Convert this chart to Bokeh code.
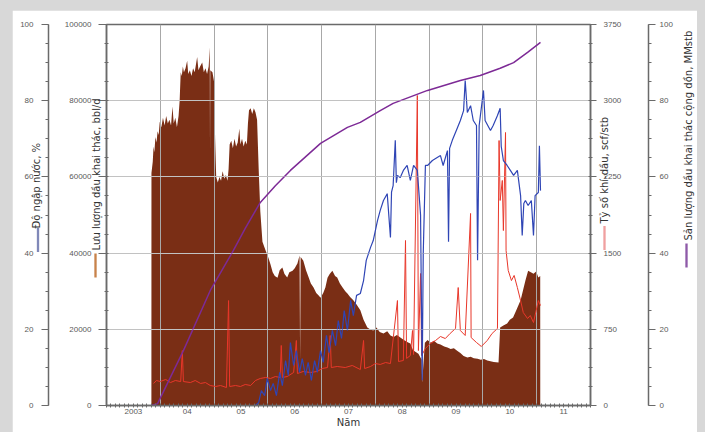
import math
from bokeh.plotting import figure
from bokeh.models import Range1d, LinearAxis, FixedTicker, Grid, Label, BasicTickFormatter
from bokeh.layouts import column
from bokeh.embed import file_html
from bokeh.resources import INLINE

# ---------------- data ----------------
# Oil rate, bbl/d
rate_year = [2003.835, 2003.836, 2003.86, 2003.875, 2003.89, 2003.91, 2003.93, 2003.95, 2003.97, 2003.99,
             2004.02, 2004.05, 2004.08, 2004.11, 2004.14, 2004.17, 2004.20, 2004.227, 2004.25, 2004.28,
             2004.31, 2004.34, 2004.36, 2004.38, 2004.40, 2004.42, 2004.44, 2004.47, 2004.50, 2004.52,
             2004.55, 2004.58, 2004.61, 2004.64, 2004.686, 2004.71, 2004.74, 2004.78, 2004.81, 2004.84,
             2004.87, 2004.90, 2004.92, 2004.925, 2004.93, 2004.97, 2005.00, 2005.02, 2005.04, 2005.07,
             2005.10, 2005.13, 2005.16, 2005.19, 2005.22, 2005.25, 2005.27, 2005.29, 2005.32, 2005.35,
             2005.38, 2005.41, 2005.44, 2005.47, 2005.49, 2005.52, 2005.55, 2005.58, 2005.61, 2005.63,
             2005.65, 2005.68, 2005.71, 2005.74, 2005.77, 2005.80, 2005.83, 2005.86, 2005.90, 2005.95,
             2006.01, 2006.05, 2006.09, 2006.13, 2006.18, 2006.22, 2006.27, 2006.31, 2006.36, 2006.40,
             2006.46, 2006.50, 2006.55, 2006.59, 2006.60, 2006.61, 2006.66, 2006.71, 2006.76, 2006.80,
             2006.85, 2006.90, 2006.95, 2006.98, 2007.03, 2007.07, 2007.11, 2007.15, 2007.20, 2007.25,
             2007.29, 2007.34, 2007.39, 2007.44, 2007.48, 2007.53, 2007.59, 2007.65, 2007.72, 2007.78,
             2007.85, 2007.90, 2007.96, 2008.02, 2008.08, 2008.15, 2008.22, 2008.28, 2008.34, 2008.40,
             2008.47, 2008.53, 2008.60, 2008.65, 2008.70, 2008.80, 2008.86, 2008.87, 2008.92, 2008.97,
             2009.03, 2009.09, 2009.15, 2009.21, 2009.28, 2009.34, 2009.40, 2009.46, 2009.52, 2009.58,
             2009.64, 2009.71, 2009.77, 2009.83, 2009.90, 2009.96, 2010.02, 2010.08, 2010.14, 2010.20,
             2010.29, 2010.32, 2010.38, 2010.45, 2010.50, 2010.56, 2010.62, 2010.70, 2010.75, 2010.79,
             2010.84, 2010.89, 2010.94, 2010.99, 2011.03, 2011.065, 2011.066]
rate_bbl = [0, 61000, 64000, 68000, 66500, 70500, 69000, 72000, 71000, 74500,
            73000, 75500, 73500, 76000, 74000, 75000, 73500, 78500, 74000, 75500,
            73000, 76000, 80000, 87500, 86500, 89000, 87500, 88500, 90500, 87000,
            88000, 86500, 88500, 87500, 91500, 88000, 89000, 90000, 87500, 88500,
            87000, 89000, 94000, 66000, 88000, 87500, 85000, 70000, 60000, 58500,
            60000, 59000, 61500, 59500, 60500, 59000, 62000, 68500, 69500, 67500,
            70000, 68000, 69000, 72700, 68500, 70000, 68000, 69500, 68500, 74000,
            77500, 78000, 76500, 78000, 77000, 75000, 62000, 51000, 43000, 41000,
            38800, 37000, 35000, 34000, 33500, 35500, 36200, 34500, 33600, 35000,
            35400, 36000, 37300, 39400, 12000, 39000, 38000, 35500, 33600, 32000,
            31000, 29500, 28800, 28300, 29500, 31000, 33500, 34500, 35400, 34000,
            33600, 32000, 31000, 30000, 29400, 28500, 27600, 26500, 25000, 22500,
            20500, 20000, 19700, 20500, 19300, 18900, 19500, 18400, 18000, 18500,
            17800, 17200, 16600, 16300, 14500, 13600, 12000, 6000, 16500, 17200,
            16500, 17000, 16300, 16000, 15500, 15200, 14800, 15000, 14400, 13800,
            13000, 12600, 12800, 12400, 12300, 12000, 12200, 11800, 11600, 11400,
            11300, 20500, 21000, 21500, 22500, 23100, 25000, 27600, 30500, 32800,
            35400, 35000, 34600, 35200, 33600, 34000, 0]

# Water cut, %
wc_year = [2005.77, 2005.83, 2005.88, 2005.94, 2005.99, 2006.05, 2006.10, 2006.16, 2006.22, 2006.27,
           2006.33, 2006.38, 2006.42, 2006.48, 2006.53, 2006.59, 2006.64, 2006.70, 2006.75, 2006.81,
           2006.87, 2006.92, 2006.98, 2007.03, 2007.09, 2007.14, 2007.20, 2007.26, 2007.31, 2007.37,
           2007.42, 2007.48, 2007.54, 2007.59, 2007.65, 2007.72, 2007.78, 2007.83, 2007.91, 2007.96,
           2008.04, 2008.09, 2008.15, 2008.22, 2008.28, 2008.30, 2008.33, 2008.37, 2008.39, 2008.41,
           2008.46, 2008.52, 2008.59, 2008.65, 2008.71, 2008.78, 2008.84, 2008.87, 2008.89, 2008.93,
           2008.97, 2009.06, 2009.15, 2009.21, 2009.26, 2009.34, 2009.36, 2009.38, 2009.43, 2009.52,
           2009.58, 2009.64, 2009.67, 2009.71, 2009.77, 2009.82, 2009.88, 2009.90, 2009.93, 2010.01,
           2010.04, 2010.14, 2010.19, 2010.27, 2010.32, 2010.34, 2010.38, 2010.45, 2010.51, 2010.57,
           2010.64, 2010.70, 2010.73, 2010.76, 2010.79, 2010.84, 2010.90, 2010.94, 2010.97, 2011.03,
           2011.05, 2011.07]
wc_pct = [0, 0.8, 3.9, 2.6, 7.1, 3.9, 5.8, 2.6, 8.7, 5.2,
          11.8, 7.9, 16.5, 10.5, 14.4, 8.7, 12.3, 7.9, 11.3, 6.6,
          11.8, 8.7, 14.4, 11.3, 18.4, 13.9, 19.7, 15.7, 22.3, 17.6,
          24.9, 19.7, 27.6, 23.6, 28.9, 29.4, 32.8, 38.1, 41.5, 43.3,
          48.6, 51.2, 53.8, 55.6, 44.1, 56.0, 57.7, 69.6, 58.5, 60.4,
          59.8, 61.7, 63.0, 59.1, 63.0, 61.7, 50.0, 6.6, 40.0, 63.0,
          63.0, 64.3, 65.1, 65.6, 63.0, 66.9, 43.0, 67.5, 69.6, 72.7,
          74.8, 77.4, 85.3, 76.9, 78.7, 74.8, 73.5, 38.1, 73.5, 82.7,
          74.8, 72.2, 73.5, 76.1, 78.0, 68.0, 64.3, 63.0, 61.7, 60.4,
          61.7, 55.1, 44.6, 53.0, 53.8, 52.5, 53.8, 44.6, 55.1, 55.9,
          68.2, 56.4]

# Gas-oil ratio, scf/stb
gor_year = [2003.874, 2003.93, 2004.00, 2004.10, 2004.19, 2004.28, 2004.38, 2004.41, 2004.43, 2004.56,
            2004.65, 2004.75, 2004.84, 2004.93, 2005.03, 2005.12, 2005.23, 2005.27, 2005.29, 2005.40,
            2005.49, 2005.58, 2005.68, 2005.77, 2005.86, 2005.96, 2006.05, 2006.14, 2006.23, 2006.25,
            2006.27, 2006.36, 2006.48, 2006.53, 2006.55, 2006.66, 2006.79, 2006.92, 2007.01, 2007.11,
            2007.16, 2007.18, 2007.29, 2007.44, 2007.57, 2007.72, 2007.78, 2007.80, 2007.91, 2008.00,
            2008.09, 2008.19, 2008.28, 2008.41, 2008.43, 2008.52, 2008.56, 2008.58, 2008.65, 2008.69,
            2008.71, 2008.78, 2008.80, 2008.84, 2008.86, 2008.93, 2009.02, 2009.12, 2009.21, 2009.30,
            2009.39, 2009.49, 2009.54, 2009.58, 2009.67, 2009.77, 2009.78, 2009.88, 2009.97, 2010.08,
            2010.17, 2010.27, 2010.30, 2010.32, 2010.36, 2010.38, 2010.42, 2010.43, 2010.47, 2010.53,
            2010.58, 2010.64, 2010.70, 2010.75, 2010.83, 2010.88, 2010.94, 2010.99, 2011.03, 2011.07]
gor_scf = [217, 246, 236, 256, 226, 246, 236, 541, 236, 226,
           246, 217, 226, 197, 187, 197, 177, 1033, 187, 197,
           187, 207, 197, 246, 266, 276, 266, 285, 276, 591,
           276, 285, 325, 640, 315, 335, 325, 335, 364, 374,
           689, 374, 384, 374, 394, 354, 640, 364, 384, 413,
           404, 423, 413, 1033, 433, 443, 1624, 463, 492, 738,
           502, 3051, 541, 1299, 492, 561, 610, 640, 679, 659,
           709, 758, 1161, 738, 689, 1890, 669, 620, 581, 640,
           709, 758, 2608, 2018, 2215, 1722, 2687, 1526, 1329, 1230,
           1280, 1161, 1033, 915, 856, 886, 817, 935, 1033, 984]

# Cumulative oil, MMstb
cum_year = [2003.836, 2003.95, 2004.43, 2004.93, 2005.36, 2005.58, 2005.86, 2006.14, 2006.42, 2006.98,
            2007.48, 2007.72, 2008.09, 2008.33, 2008.97, 2009.58, 2009.95, 2010.32, 2010.57, 2010.83,
            2011.07]
cum_mm = [0, 0.5, 14.4, 30.2, 40.7, 46.5, 53.3, 57.7, 61.7, 68.8,
          73.0, 74.3, 77.4, 79.3, 82.7, 85.3, 86.6, 88.5, 90.0, 92.7,
          95.3]

year_mid = [2003.5, 2004.5, 2005.5, 2006.5, 2007.5, 2008.5, 2009.5, 2010.5, 2011.5]
year_labels = ["2003", "04", "05", "06", "07", "08", "09", "10", "11"]
year_edges = [2004, 2005, 2006, 2007, 2008, 2009, 2010, 2011]

rate_ticks = [0, 20000, 40000, 60000, 80000, 100000]
pct_ticks = [0, 20, 40, 60, 80, 100]
gor_ticks = [0, 750, 1500, 2250, 3000, 3750]

# ---------------- styling ----------------
AX = "#6a6a6a"
LBL = "#5a5a5a"
TFONT = "Liberation Sans"
TSIZE = "8px"
BROWN = "#7a2e15"

p = figure(width=685, height=422,
           x_range=Range1d(2003, 2012), y_range=Range1d(0, 100000),
           output_backend="svg", toolbar_location=None,
           min_border_left=94, min_border_right=107, min_border_top=14, min_border_bottom=27,
           background_fill_color="white", border_fill_color="white",
           outline_line_color=AX, outline_line_width=1.5)
p.extra_y_ranges = {"wc": Range1d(0, 100), "gor": Range1d(0, 3750), "cum": Range1d(0, 100)}


def style_axis(ax, tick_out, tick_in, minor_out, minor_in, standoff):
    ax.axis_line_color = AX
    ax.axis_line_width = 1.5
    ax.major_tick_line_color = AX
    ax.minor_tick_line_color = AX
    ax.major_tick_out = tick_out
    ax.major_tick_in = tick_in
    ax.minor_tick_out = minor_out
    ax.minor_tick_in = minor_in
    ax.major_label_standoff = standoff
    ax.major_label_text_font = TFONT
    ax.major_label_text_font_size = TSIZE
    ax.major_label_text_color = LBL


# x axis
xa = p.xaxis[0]
xa.ticker = FixedTicker(ticks=year_mid,
                        minor_ticks=[2003 + k / 12 for k in range(0, 109)])
xa.major_label_overrides = {m: t for m, t in zip(year_mid, year_labels)}
style_axis(xa, 0, 0, 2, 2, 1)
xa.axis_label = "Năm"
xa.axis_label_text_font = "DejaVu Sans"
xa.axis_label_text_font_size = "10px"
xa.axis_label_text_font_style = "normal"
xa.axis_label_text_color = "#333333"
xa.axis_label_standoff = 0

# inner left: oil rate
ya = p.yaxis[0]
ya.ticker = FixedTicker(ticks=rate_ticks, minor_ticks=list(range(0, 100001, 5000)))
ya.formatter = BasicTickFormatter(use_scientific=False)
style_axis(ya, 8, 0, 2, 2, 7)

# outer left: water cut
wa = LinearAxis(y_range_name="wc", ticker=FixedTicker(ticks=pct_ticks, minor_ticks=list(range(0, 101, 5))))
style_axis(wa, 7, 0, 3, 0, 8)

# right: GOR
ga = LinearAxis(y_range_name="gor", ticker=FixedTicker(ticks=gor_ticks,
                minor_ticks=[187.5 * k for k in range(0, 21)]))
style_axis(ga, 6, 0, 2, 2, 7)

# far right: cumulative
ca = LinearAxis(y_range_name="cum", ticker=FixedTicker(ticks=pct_ticks, minor_ticks=list(range(0, 101, 5))))
style_axis(ca, 7, 0, 3, 0, 4)


def title(text, sx, sy):
    return Label(text=text, x=sx, y=sy, x_units="screen", y_units="screen",
                 angle=math.pi / 2, text_align="left", text_baseline="middle",
                 text_font="DejaVu Sans", text_font_size="10px", text_color="#333333")


def mark(sx, sy, color):
    return Label(text="\u2003" * 12, x=sx, y=sy, x_units="screen", y_units="screen",
                 angle=math.pi / 2, text_align="center", text_baseline="middle",
                 text_font="DejaVu Sans", text_font_size="2px", text_color=color,
                 background_fill_color=color)


# side stacks: titles and legend marks share the panels between the axes
p.left = [ya,
          title("Lưu lượng dầu khai thác, bbl/d", 46, 155),
          mark(47, 140, "#c8824a"),
          wa,
          mark(22.5, 165.5, "#8088b8")]
p.right = [ga,
           title("Tỷ số khí-dầu, scf/stb", -20, 182),
           mark(-31, 167.5, "#f0a0a0"),
           title("Độ ngập nước, %", -601, 177),
           ca,
           title("Sản lượng dầu khai thác cộng dồn, MMstb", 13, 165),
           mark(0, 150, "#8e5aa8")]

# grids
p.xgrid.ticker = FixedTicker(ticks=year_edges)
p.ygrid.ticker = FixedTicker(ticks=rate_ticks[1:-1])
p.xgrid.grid_line_color = "#a8a8a8"
p.ygrid.grid_line_color = "#a8a8a8"
over = Grid(dimension=1, ticker=FixedTicker(ticks=rate_ticks[1:-1]), grid_line_color="white",
            grid_line_alpha=0.3, level="glyph")
p.add_layout(over)

# series
p.varea(x=rate_year, y1=0, y2=rate_bbl, fill_color=BROWN, level="underlay")
p.line(gor_year, gor_scf, y_range_name="gor", line_color="#e8372a", line_width=1)
p.line(wc_year, wc_pct, y_range_name="wc", line_color="#2f45b5", line_width=1.2)
p.line(cum_year, cum_mm, y_range_name="cum", line_color="#7d2a96", line_width=1.5)

root = column(p, styles={"padding": "10px 8px 0px 12px", "background-color": "#d8d8d8"})

open("out.html", "w").write(file_html(root, INLINE))
